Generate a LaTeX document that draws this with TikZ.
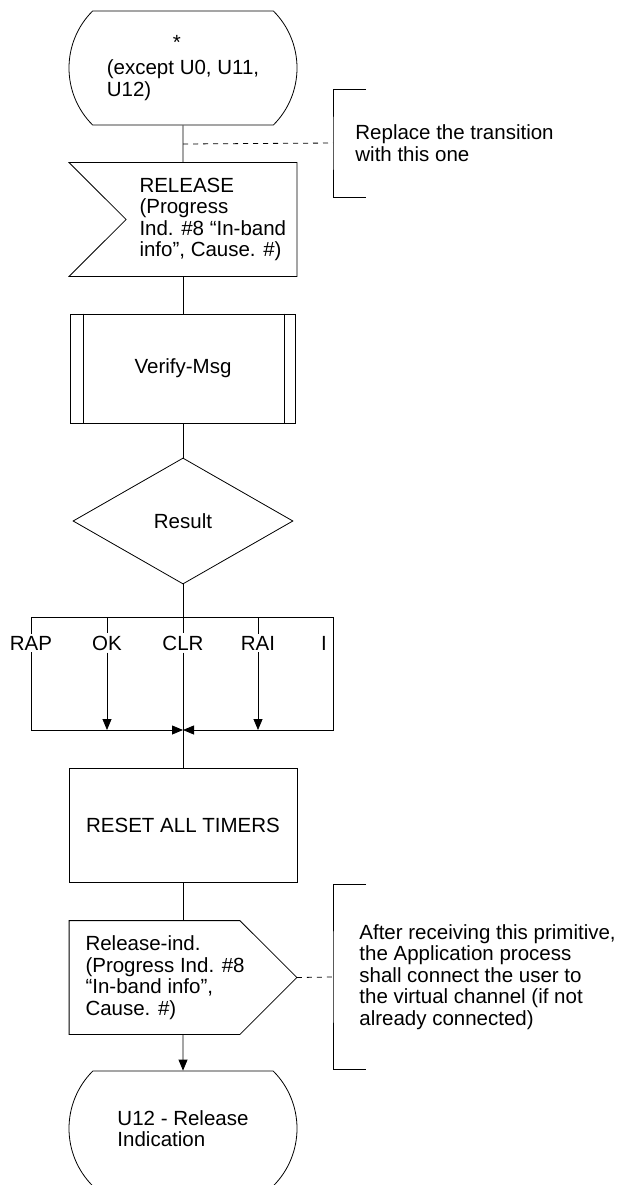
\documentclass[tikz,border=0pt]{standalone}
\usepackage{fontspec}
\setmainfont{Liberation Sans}
\usetikzlibrary{shapes.geometric, shapes.misc, arrows.meta, positioning, calc}
\tikzstyle{sdlstate} = [rounded rectangle, rounded rectangle arc length=90, draw, minimum width=228pt, minimum height=114pt, inner sep=0pt, align=left]
\tikzstyle{insignal} = [rectangle, minimum width=227pt, minimum height=113pt, inner sep=0pt,
  append after command={\pgfextra{\draw (\tikzlastnode.north west) -- (\tikzlastnode.north east) -- (\tikzlastnode.south east) -- (\tikzlastnode.south west) -- ([xshift=57pt]\tikzlastnode.west) -- cycle;}}]
\tikzstyle{outsignal} = [rectangle, minimum width=227pt, minimum height=113pt, inner sep=0pt,
  append after command={\pgfextra{\draw (\tikzlastnode.north west) -- ([xshift=-57pt]\tikzlastnode.north east) -- (\tikzlastnode.east) -- ([xshift=-57pt]\tikzlastnode.south east) -- (\tikzlastnode.south west) -- cycle;}}]
\tikzstyle{procbox} = [rectangle, draw, minimum width=225pt, minimum height=109pt,
  append after command={\pgfextra{\draw ([xshift=13pt]\tikzlastnode.north west) -- ([xshift=13pt]\tikzlastnode.south west); \draw ([xshift=-12pt]\tikzlastnode.north east) -- ([xshift=-12pt]\tikzlastnode.south east);}}]
\tikzstyle{taskbox} = [rectangle, draw, minimum width=228pt, minimum height=114pt]
\tikzstyle{decision} = [diamond, draw, minimum width=220pt, minimum height=126pt, inner sep=0pt]
\tikzstyle{sigtext} = [anchor=west, align=left, inner sep=0pt]
\tikzstyle{branch} = [inner sep=2pt]
\tikzstyle{note} = [anchor=west, align=left, inner sep=0pt]
\tikzstyle{arrow} = [-{Triangle[length=11pt, width=9pt]}]
\tikzstyle{comment} = [dash pattern=on 5pt off 5pt]

\begin{document}
\begin{tikzpicture}[x=1pt, y=-1pt, line width=0.8pt, font=\fontsize{20.5}{21.5}\selectfont]
    \useasboundingbox (0,0) rectangle (618,1185);

    % Start state
    \node[sdlstate] (start) at (183, 68) {\hspace*{66pt}*\\[4pt](except U0, U11,\\U12)};

    % Input signal
    \node[insignal, label={[sigtext, xshift=70pt]west:{RELEASE\\(Progress\\Ind. \#8 “In-band\\info”, Cause. \#)}}] (release) at (183, 219.5) {};

    % Procedure call
    \node[procbox] (verify) at (183, 368.5) {Verify-Msg};

    % Decision
    \node[decision] (result) at (183, 521) {Result};

    % Branch labels
    \node[branch] (rap) at (31, 643) {RAP};
    \node[branch] (ok) at (107, 643) {OK};
    \node[branch] (clr) at (183, 643) {CLR};
    \node[branch] (rai) at (258, 643) {RAI};
    \node[branch] (ib) at (324, 643) {I};
    \coordinate (barl) at (31, 617);
    \coordinate (barr) at (333, 617);
    \coordinate (merge) at (183, 730);

    % Task
    \node[taskbox] (reset) at (183, 825) {RESET ALL TIMERS};

    % Output signal
    \node[outsignal, label={[sigtext, xshift=16pt]west:{Release-ind.\\(Progress Ind. \#8\\“In-band info”,\\Cause. \#)}}] (relind) at (183, 977.5) {};

    % Next state
    \node[sdlstate, minimum height=115pt] (final) at (183, 1128.5) {U12 - Release\\Indication};

    % Comments
    \node[note] (note1) at (355, 143) {Replace the transition\\with this one};
    \node[note] (note2) at (359, 977) {After receiving this primitive,\\the Application process\\shall connect the user to\\the virtual channel (if not\\already connected)};
    \coordinate (br1) at ($(note1.west)+(-22,0)$);
    \coordinate (br2) at ($(note2.west)+(-26,0)$);

    % Flow lines
    \draw (start) -- (release);
    \draw (release) -- (verify);
    \draw (verify) -- (result);
    \draw (result) -- (clr);
    \draw (barl) -- (barr);
    \draw (barl) -- (rap);
    \draw (ok |- barl) -- (ok);
    \draw (rai |- barl) -- (rai);
    \draw[arrow] (rap) |- (merge);
    \draw[arrow] (barr) |- (merge);
    \draw[arrow] (ok) -- (ok |- merge);
    \draw[arrow] (rai) -- (rai |- merge);
    \draw (clr) -- (reset);
    \draw (reset) -- (relind);
    \draw[arrow] (relind) -- (final);

    % Comment brackets
    \draw ($(br1)+(33,-54)$) -| (br1) |- ($(br1)+(33,54)$);
    \draw[comment] ($(start.south)!0.5!(release.north)$) -- (br1);
    \draw ($(br2)+(33,-92.5)$) -| (br2) |- ($(br2)+(33,92.5)$);
    \draw[comment] (relind.east) -- (br2);
\end{tikzpicture}
\end{document}
